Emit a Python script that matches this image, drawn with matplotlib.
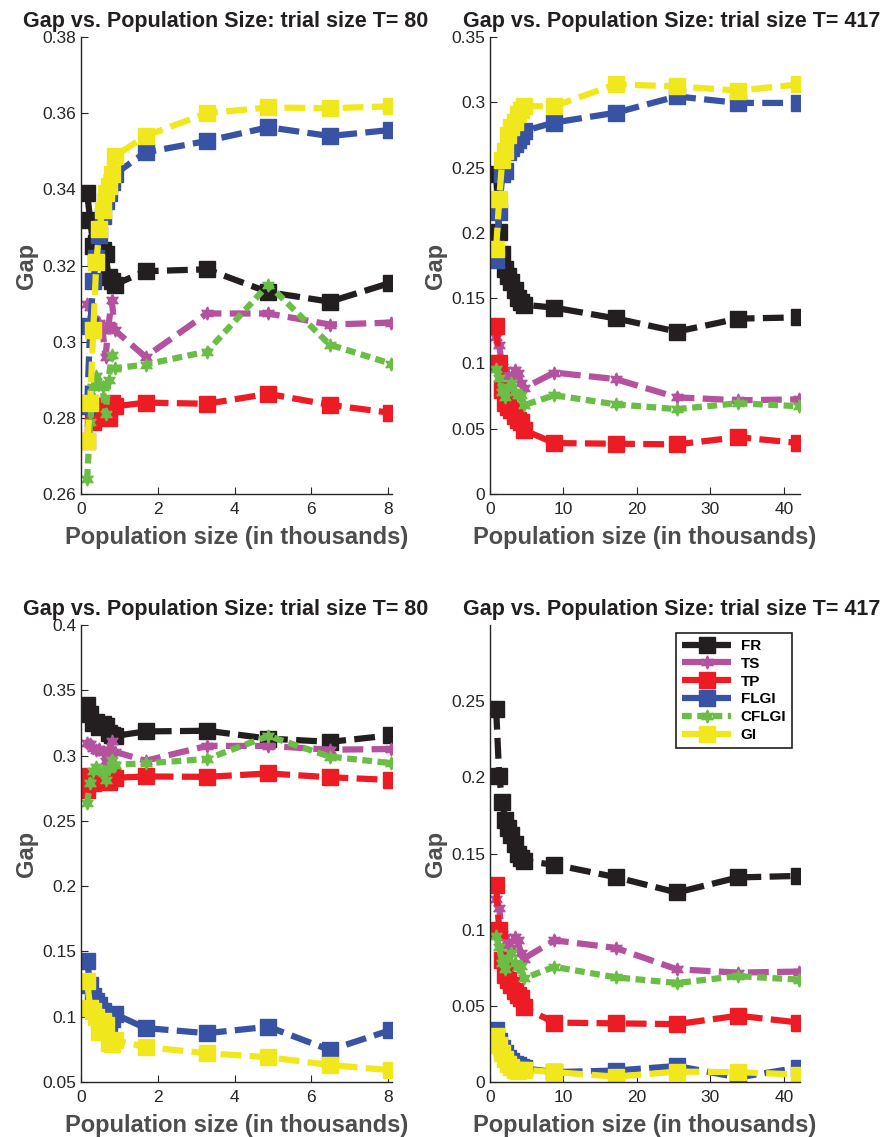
import numpy as np
import matplotlib
matplotlib.use("Agg")
import matplotlib.pyplot as plt
from matplotlib.ticker import FormatStrFormatter

plt.rcParams['font.family'] = ['Liberation Sans', 'DejaVu Sans']
plt.rcParams['lines.scale_dashes'] = False

# population sizes (in thousands)
x_80 = [0.16, 0.24, 0.32, 0.40, 0.48, 0.56, 0.64, 0.72, 0.80, 0.88, 1.68, 3.28, 4.88, 6.48, 8.08]
x_417 = [0.834, 1.251, 1.668, 2.085, 2.502, 2.919, 3.336, 3.753, 4.170, 4.587,
         8.757, 17.097, 25.437, 33.777, 42.117]

methods = ['FR', 'TS', 'TP', 'FLGI', 'CFLGI', 'GI']
colors = ['#231f20', '#b5529f', '#ed1c24', '#3953a4', '#6abd45', '#f0e81c']

# T = 80
fr_80 = [0.339, 0.332, 0.325, 0.326, 0.322, 0.324, 0.323, 0.317, 0.316, 0.315, 0.3185, 0.319, 0.313, 0.3105, 0.3155]
ts_80 = [0.310, 0.309, 0.306, 0.304, 0.305, 0.303, 0.296, 0.3045, 0.311, 0.303, 0.296, 0.3074, 0.3074, 0.3045, 0.305]
tp_80 = [0.274, 0.284, 0.279, 0.283, 0.283, 0.283, 0.282, 0.280, 0.284, 0.283, 0.284, 0.2837, 0.2863, 0.2834, 0.2813]
cflgi_80 = [0.264, 0.279, 0.288, 0.291, 0.289, 0.288, 0.281, 0.290, 0.2965, 0.293, 0.294, 0.2974, 0.315, 0.2992, 0.2942]
flgi_80 = [0.283, 0.304, 0.316, 0.322, 0.328, 0.333, 0.337, 0.339, 0.342, 0.344, 0.3497, 0.3527, 0.3563, 0.354, 0.3556]
gi_80 = [0.274, 0.284, 0.303, 0.321, 0.3295, 0.3347, 0.339, 0.341, 0.344, 0.3487, 0.354, 0.360, 0.3615, 0.3613, 0.3618]
flgi_80_b = [0.143, 0.124, 0.116, 0.112, 0.109, 0.104, 0.100, 0.094, 0.098, 0.102, 0.0913, 0.0874, 0.0923, 0.0745, 0.0899]
gi_80_b = [0.127, 0.107, 0.104, 0.100, 0.088, 0.097, 0.094, 0.080, 0.079, 0.082, 0.0768, 0.072, 0.069, 0.063, 0.059]

# T = 417
fr_417 = [0.245, 0.201, 0.184, 0.172, 0.167, 0.162, 0.156, 0.150, 0.147, 0.145, 0.1427, 0.1345, 0.1244, 0.1343, 0.1353]
ts_417 = [0.120, 0.114, 0.097, 0.095, 0.090, 0.088, 0.095, 0.093, 0.085, 0.081, 0.093, 0.088, 0.074, 0.0718, 0.0725]
tp_417 = [0.129, 0.100, 0.080, 0.070, 0.067, 0.064, 0.060, 0.057, 0.055, 0.049, 0.039, 0.0385, 0.038, 0.0435, 0.039]
cflgi_417 = [0.096, 0.0885, 0.078, 0.074, 0.0817, 0.0847, 0.078, 0.0756, 0.076, 0.068, 0.0756, 0.0687, 0.065, 0.0695, 0.0672]
flgi_417 = [0.179, 0.216, 0.245, 0.247, 0.262, 0.265, 0.268, 0.271, 0.274, 0.278, 0.2845, 0.292, 0.3045, 0.2995, 0.2995]
gi_417 = [0.188, 0.226, 0.256, 0.263, 0.275, 0.281, 0.285, 0.291, 0.294, 0.297, 0.297, 0.3137, 0.3122, 0.309, 0.3137]
flgi_417_b = [0.034, 0.027, 0.022, 0.019, 0.016, 0.014, 0.012, 0.011, 0.010, 0.009, 0.0065, 0.0075, 0.0105, 0.003, 0.0095]
gi_417_b = [0.030, 0.024, 0.019, 0.015, 0.012, 0.010, 0.008, 0.007, 0.008, 0.008, 0.0065, 0.0035, 0.0068, 0.0065, 0.0048]

panels = [
    # x, series, title, xlim, xticks, ylim, yticks, rect (px), title x
    (x_80, [fr_80, ts_80, tp_80, flgi_80, cflgi_80, gi_80], 'T= 80',
     (0, 8.1), [0, 2, 4, 6, 8], (0.26, 0.38), np.arange(0.26, 0.381, 0.02), (81, 37, 392, 494), 0.465),
    (x_417, [fr_417, ts_417, tp_417, flgi_417, cflgi_417, gi_417], 'T= 417',
     (0, 42.2), [0, 10, 20, 30, 40], (0, 0.35), np.arange(0, 0.351, 0.05), (490, 37, 800, 494), 0.585),
    (x_80, [fr_80, ts_80, tp_80, flgi_80_b, cflgi_80, gi_80_b], 'T= 80',
     (0, 8.1), [0, 2, 4, 6, 8], (0.05, 0.4), np.arange(0.05, 0.401, 0.05), (81, 625, 392, 1082), 0.465),
    (x_417, [fr_417, ts_417, tp_417, flgi_417_b, cflgi_417, gi_417_b], 'T= 417',
     (0, 42.2), [0, 10, 20, 30, 40], (0, 0.3), np.arange(0, 0.251, 0.05), (490, 625, 800, 1082), 0.585),
]

W, H = 885, 1137
fig = plt.figure(figsize=(W / 100, H / 100), dpi=100)

for i, (x, series, tlabel, xlim, xticks, ylim, yticks, rect, tx) in enumerate(panels):
    l, t, r, b = rect
    ax = fig.add_axes([l / W, 1 - b / H, (r - l) / W, (b - t) / H])
    for name, col, y in zip(methods, colors, series):
        star = name in ('TS', 'CFLGI')
        ax.plot(x, y, color=col, lw=4.5, marker=(6, 1, 0) if star else 's',
                ms=9.5 if star else 11, mfc=col, mec=col, mew=1,
                dashes=(7, 4) if name == 'CFLGI' else (15, 6),
                dash_capstyle='butt', label=name)
    ax.set_xlim(*xlim)
    ax.set_ylim(*ylim)
    ax.set_xticks(xticks)
    ax.set_yticks(yticks)
    ax.yaxis.set_major_formatter(FormatStrFormatter('%g'))
    ax.xaxis.set_major_formatter(FormatStrFormatter('%g'))
    for s in ('top', 'right'):
        ax.spines[s].set_visible(False)
    for s in ('left', 'bottom'):
        ax.spines[s].set_color('#262626')
        ax.spines[s].set_linewidth(1.0)
    ax.tick_params(direction='in', length=5, labelsize=12.5, colors='#262626')
    ax.tick_params(axis='x', pad=6)
    ax.set_title('Gap vs. Population Size: trial size ' + tlabel, fontsize=15.5,
                 fontweight='bold', color='#231f20', x=tx, pad=7)
    ax.set_xlabel('Population size (in thousands)', fontsize=17, fontweight='bold',
                  color='#4d4d4d', labelpad=6)
    ax.set_ylabel('Gap', fontsize=17, fontweight='bold', color='#4d4d4d', labelpad=3)
    if i == 3:
        leg = ax.legend(loc='upper right', bbox_to_anchor=(0.975, 0.983), borderaxespad=0,
                        fancybox=False, edgecolor='#231f20', framealpha=1,
                        handlelength=3.2, handletextpad=0.6, numpoints=1, labelspacing=0.25,
                        prop={'weight': 'bold', 'size': 11})
        leg.get_frame().set_linewidth(1.2)

fig.savefig('out.png', dpi=100)
